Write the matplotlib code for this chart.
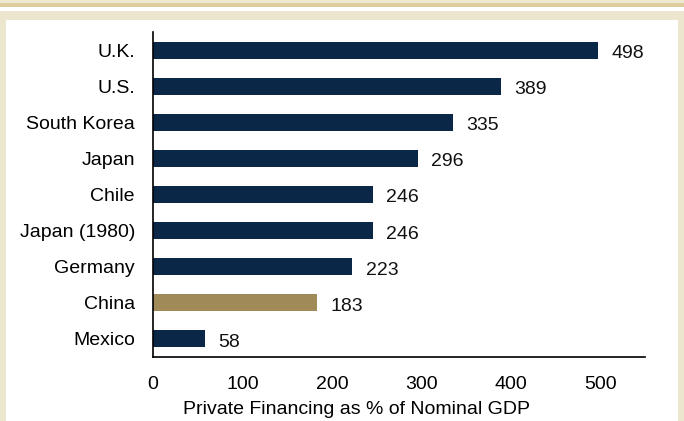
import matplotlib.pyplot as plt
from matplotlib.patches import Rectangle
from matplotlib.transforms import ScaledTranslation

countries = ["U.K.", "U.S.", "South Korea", "Japan", "Chile",
             "Japan (1980)", "Germany", "China", "Mexico"]
financing = [498, 389, 335, 296, 246, 246, 223, 183, 58]
colors = ["#0B2748"] * 7 + ["#A08A57", "#0B2748"]
xticks = [0, 100, 200, 300, 400, 500]

plt.rcParams['font.family'] = ['Liberation Sans', 'DejaVu Sans']

fig = plt.figure(figsize=(6.84, 4.21), dpi=100)
fig.patch.set_facecolor("#ECE6CE")

# page-style frame: stripes along the top, white panel below
W, H = 684, 421
def band(y0, y1, x0, x1, c):
    fig.add_artist(Rectangle((x0 / W, 1 - y1 / H), (x1 - x0) / W, (y1 - y0) / H,
                             transform=fig.transFigure, color=c, lw=0, zorder=0))
band(0, 3, 0, W, "#EFE8D2")
band(3, 7, 0, W, "#DECD9F")
band(7, 11, 0, W, "#FFFFFF")
band(20, H, 6, 678, "#FFFFFF")

ax = fig.add_axes([153 / W, 1 - 357 / H, (645 - 153) / W, (357 - 32) / H])
ax.set_facecolor("none")
y = range(len(countries))
ax.barh(y, financing, height=0.47, color=colors, zorder=2)

# nudge all the numbers a little below the bar centre line
down = ScaledTranslation(0, -2.5 / 72, fig.dpi_scale_trans)
for yi, v in zip(y, financing):
    ax.text(v + 15, yi, str(v), va="center", ha="left", fontsize=14,
            color="#111111", transform=ax.transData + down)

ax.set_xlim(0, 550)
ax.set_ylim(len(countries) - 0.5, -0.5)
ax.set_yticks(list(y))
ax.set_yticklabels(countries, fontsize=14)
for lbl in ax.get_yticklabels():
    lbl.set_transform(lbl.get_transform() + ScaledTranslation(0, -1.5 / 72, fig.dpi_scale_trans))
ax.set_xticks(xticks)
ax.set_xticklabels([str(t) for t in xticks], fontsize=14)
ax.tick_params(axis="both", length=0)
ax.tick_params(axis="x", pad=14)
ax.tick_params(axis="y", pad=13)
ax.spines["top"].set_visible(False)
ax.spines["right"].set_visible(False)
ax.spines["left"].set_linewidth(1.2)
ax.spines["bottom"].set_linewidth(1.2)
ax.set_xlabel("Private Financing as % of Nominal GDP", fontsize=14, va="top")
ax.xaxis.set_label_coords(0.413, -0.135)

fig.savefig("out.png", dpi=100, facecolor=fig.get_facecolor())
